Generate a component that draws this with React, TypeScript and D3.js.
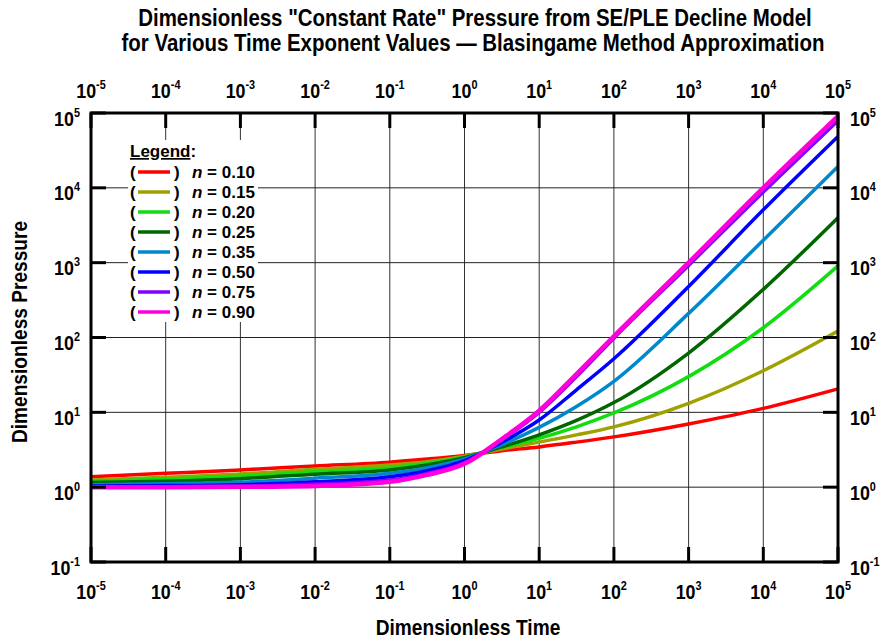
import React from "react";
import * as d3 from "d3";

const times = [1e-5, 1e-4, 1e-3, 1e-2, 1e-1, 0.316, 1, 3.16, 10, 31.6, 100, 1e3, 1e4, 1e5];

const nLabels = ["0.10", "0.15", "0.20", "0.25", "0.35", "0.50", "0.75", "0.90"];
const colors = ["#ff0000", "#a0a000", "#11dd11", "#006600", "#0088cc", "#0000ff", "#8000ff", "#ff00dd"];

const pN010 = [1.38, 1.53, 1.7, 1.92, 2.16, 2.38, 2.66, 3.07, 3.45, 4.0, 4.7, 7.0, 11.3, 20.6];
const pN015 = [1.25, 1.36, 1.5, 1.73, 1.98, 2.19, 2.6, 3.24, 4.0, 5.0, 6.4, 13.2, 36, 122];
const pN020 = [1.2, 1.28, 1.4, 1.61, 1.82, 2.09, 2.52, 3.4, 4.5, 6.4, 9.8, 30, 135, 906];
const pN025 = [1.15, 1.2, 1.3, 1.49, 1.7, 1.98, 2.47, 3.45, 5.0, 7.8, 13.5, 62, 440, 4000];
const pN035 = [1.08, 1.11, 1.17, 1.32, 1.53, 1.82, 2.38, 3.7, 6.3, 12, 26, 210, 2000, 19300];
const pN050 = [1.04, 1.05, 1.08, 1.18, 1.38, 1.66, 2.27, 3.98, 7.9, 20, 52, 480, 5080, 48500];
const pN075 = [1.01, 1.01, 1.03, 1.1, 1.25, 1.53, 2.13, 4.3, 10, 30, 98, 920, 8800, 79000];
const pN090 = [1.0, 1.0, 1.01, 1.04, 1.18, 1.46, 2.05, 4.4, 10.5, 32.5, 104, 1000, 10000, 91000];

const series = [pN010, pN015, pN020, pN025, pN035, pN050, pN075, pN090];

const decades = [-5, -4, -3, -2, -1, 0, 1, 2, 3, 4, 5];
const yDecades = [-1, 0, 1, 2, 3, 4, 5];

const W = 883;
const H = 642;
const L = 91, R = 838, T = 113, B = 562;
const FONT = "'Liberation Sans', Arial, sans-serif";
const SX = 0.87;

export default function App() {
  const x = d3.scaleLog().domain([1e-5, 1e5]).range([L, R]);
  const y = d3.scaleLog().domain([1e-1, 1e5]).range([B, T]);
  const line = d3
    .line<[number, number]>()
    .x((d) => x(d[0]))
    .y((d) => y(d[1]))
    .curve(d3.curveMonotoneX);

  const tickLen = 15;

  const lbl = (px: number, py: number, e: number, anchor: string, key: string) => (
    <text
      key={key}
      transform={`translate(${px},${py}) scale(${SX},1)`}
      textAnchor={anchor}
      fontSize={20.5}
      fontWeight="bold"
    >
      10
      <tspan dy={-9} fontSize={12.5}>
        {String(e)}
      </tspan>
    </text>
  );

  return (
    <svg
      width={W}
      height={H}
      style={{ position: "absolute", left: 0, top: 0, background: "#fff" }}
      fontFamily={FONT}
    >
      <rect x={0} y={0} width={W} height={H} fill="#fff" />
      {/* title */}
      <text transform={`translate(475,26) scale(${SX},1)`} textAnchor="middle" fontSize={23.5} fontWeight="bold">
        Dimensionless "Constant Rate" Pressure from SE/PLE Decline Model
      </text>
      <text transform={`translate(473,51) scale(${SX},1)`} textAnchor="middle" fontSize={23.5} fontWeight="bold">
        for Various Time Exponent Values — Blasingame Method Approximation
      </text>

      {/* grid */}
      {decades.map((d) => (
        <line key={"gx" + d} x1={x(Math.pow(10, d))} x2={x(Math.pow(10, d))} y1={T} y2={B} stroke="#333" strokeWidth={1} />
      ))}
      {yDecades.map((d) => (
        <line key={"gy" + d} x1={L} x2={R} y1={y(Math.pow(10, d))} y2={y(Math.pow(10, d))} stroke="#222" strokeWidth={1} />
      ))}

      {/* curves */}
      <g>
        {series.map((s, i) => (
          <path
            key={"s" + i}
            d={line(times.map((t, j) => [t, s[j]] as [number, number])) || ""}
            fill="none"
            stroke={colors[i]}
            strokeWidth={i === 7 ? 4.5 : 3.5}
            strokeLinejoin="round"
          />
        ))}
      </g>

      {/* ticks */}
      {decades.map((d) => {
        const px = x(Math.pow(10, d));
        return (
          <g key={"tx" + d}>
            <line x1={px} x2={px} y1={B} y2={B - tickLen} stroke="#000" strokeWidth={3} />
            <line x1={px} x2={px} y1={T} y2={T + tickLen} stroke="#000" strokeWidth={3} />
          </g>
        );
      })}
      {yDecades.map((d) => {
        const py = y(Math.pow(10, d));
        return (
          <g key={"ty" + d}>
            <line x1={L} x2={L + tickLen} y1={py} y2={py} stroke="#000" strokeWidth={3} />
            <line x1={R} x2={R - tickLen} y1={py} y2={py} stroke="#000" strokeWidth={3} />
          </g>
        );
      })}

      {/* frame */}
      <rect x={L} y={T} width={R - L} height={B - T} fill="none" stroke="#000" strokeWidth={3} />

      {/* x labels */}
      {decades.map((d) => {
        const px = x(Math.pow(10, d));
        return (
          <g key={"lx" + d}>
            {lbl(px, 598.5, d, "middle", "b")}
            {lbl(px, 98, d, "middle", "t")}
          </g>
        );
      })}
      {/* y labels */}
      {yDecades.map((d) => {
        const py = y(Math.pow(10, d));
        return (
          <g key={"ly" + d}>
            {lbl(80, py + 12.5, d, "end", "l")}
            {lbl(850, py + 12.5, d, "start", "r")}
          </g>
        );
      })}

      {/* axis titles */}
      <text transform={`translate(468,635) scale(${SX},1)`} textAnchor="middle" fontSize={22} fontWeight="bold">
        Dimensionless Time
      </text>
      <text
        transform={`translate(27,332) rotate(-90) scale(${SX},1)`}
        textAnchor="middle"
        fontSize={22}
        fontWeight="bold"
      >
        Dimensionless Pressure
      </text>

      {/* legend */}
      <rect x={128} y={140} width={130} height={182} fill="#fff" />
      <text x={130} y={157} fontSize={17} fontWeight="bold">
        <tspan textDecoration="underline">Legend</tspan>:
      </text>
      {nLabels.map((n, i) => {
        const cy = 172 + i * 20;
        return (
          <g key={"lg" + i} fontSize={17} fontWeight="bold">
            <text x={130} y={cy + 6}>(</text>
            <line x1={138} x2={170} y1={cy} y2={cy} stroke={colors[i]} strokeWidth={3.5} />
            <text x={174} y={cy + 6}>)</text>
            <text x={192} y={cy + 6}>
              <tspan fontStyle="italic">n</tspan> = {n}
            </text>
          </g>
        );
      })}
    </svg>
  );
}
